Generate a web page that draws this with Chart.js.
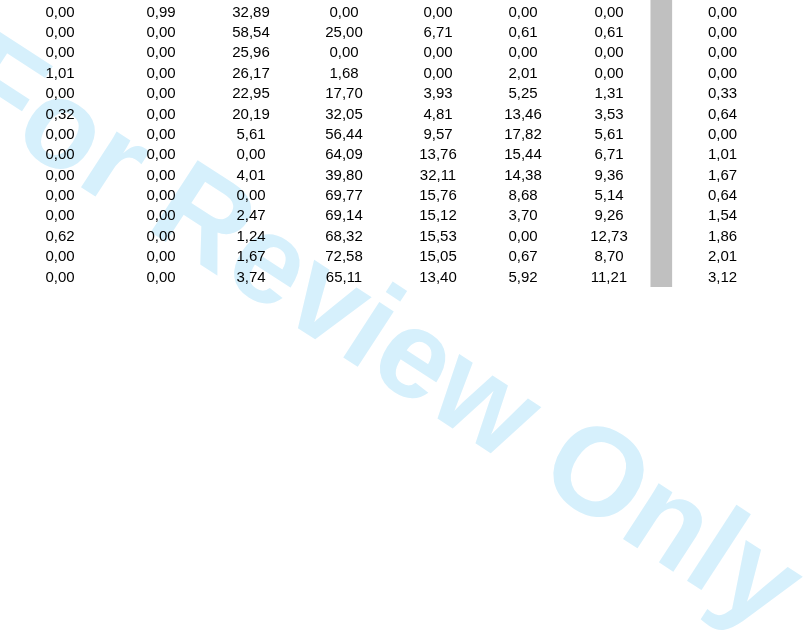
<!DOCTYPE html>
<html>
<head>
<meta charset="utf-8">
<script src="https://cdn.jsdelivr.net/npm/chart.js@4/dist/chart.umd.min.js"></script>
<style>
    html, body { margin: 0; padding: 0; background: #ffffff; }
    #wrap { width: 810px; height: 637px; position: relative; }
</style>
</head>
<body>
<div id="wrap"><canvas id="tableChart"></canvas></div>
<script>
// table values, one array per column (rows top to bottom)
const col1 = [0.00, 0.00, 0.00, 1.01, 0.00, 0.32, 0.00, 0.00, 0.00, 0.00, 0.00, 0.62, 0.00, 0.00];
const col2 = [0.99, 0.00, 0.00, 0.00, 0.00, 0.00, 0.00, 0.00, 0.00, 0.00, 0.00, 0.00, 0.00, 0.00];
const col3 = [32.89, 58.54, 25.96, 26.17, 22.95, 20.19, 5.61, 0.00, 4.01, 0.00, 2.47, 1.24, 1.67, 3.74];
const col4 = [0.00, 25.00, 0.00, 1.68, 17.70, 32.05, 56.44, 64.09, 39.80, 69.77, 69.14, 68.32, 72.58, 65.11];
const col5 = [0.00, 6.71, 0.00, 0.00, 3.93, 4.81, 9.57, 13.76, 32.11, 15.76, 15.12, 15.53, 15.05, 13.40];
const col6 = [0.00, 0.61, 0.00, 2.01, 5.25, 13.46, 17.82, 15.44, 14.38, 8.68, 3.70, 0.00, 0.67, 5.92];
const col7 = [0.00, 0.61, 0.00, 0.00, 1.31, 3.53, 5.61, 6.71, 9.36, 5.14, 9.26, 12.73, 8.70, 11.21];
const col8 = [0.00, 0.00, 0.00, 0.00, 0.33, 0.64, 0.00, 1.01, 1.67, 0.64, 1.54, 1.86, 2.01, 3.12];

const columns = [col1, col2, col3, col4, col5, col6, col7, col8];
const watermark = "For Review Only";

// layout (x centres of the columns on a 0..810 scale, gray divider column)
const colCenters = [60, 161, 251, 344, 438, 523, 609, 722.5];
const dividerX = 661.3;

const rowCount = col1.length;

function fmt(v){
    return v.toFixed(2).replace(".", ",");
}

const tablePlugin = {
    id: "tableText",

    beforeDatasetsDraw(chart){
        const c = chart.ctx;
        const x = chart.scales.x;
        const y = chart.scales.y;
        c.save();
        c.translate(x.getPixelForValue(356.5), y.getPixelForValue(17.14));
        c.rotate(33 * Math.PI / 180);
        c.font = "bold 125px 'Liberation Sans', Arial, sans-serif";
        c.fontKerning = "none";
        c.fillStyle = "#d6f0fc";
        c.textAlign = "center";
        c.textBaseline = "alphabetic";
        c.fillText(watermark, 0, 0);
        c.restore();
    },

    afterDatasetsDraw(chart){
        const c = chart.ctx;
        const x = chart.scales.x;
        const y = chart.scales.y;
        c.save();
        c.font = "15px 'Liberation Sans', Arial, sans-serif";
        c.fillStyle = "#000000";
        c.textAlign = "center";
        c.textBaseline = "alphabetic";
        columns.forEach((col, ci) => {
            col.forEach((v, ri) => {
                c.fillText(fmt(v), x.getPixelForValue(colCenters[ci]), y.getPixelForValue(ri));
            });
        });
        c.restore();
    }
};

const ctx = document.getElementById("tableChart");

new Chart(ctx, {
    type: "bar",
    data: {
        datasets: [
            {
                label: "divider",
                data: [{ x: dividerX, y: [-0.82, rowCount - 0.75] }],
                backgroundColor: "#c0c0c0",
                borderWidth: 0,
                barThickness: 21
            }
        ]
    },
    options: {
        responsive: true,
        maintainAspectRatio: false,
        animation: false,
        events: [],
        layout: { padding: 0 },
        plugins: {
            legend: { display: false },
            tooltip: { enabled: false }
        },
        scales: {
            x: {
                type: "linear",
                display: false,
                offset: false,
                min: 0,
                max: 810
            },
            y: {
                type: "linear",
                display: false,
                reverse: true,
                min: -0.819,
                max: -0.819 + 637 / 20.38
            }
        }
    },
    plugins: [tablePlugin]
});
</script>
</body>
</html>
